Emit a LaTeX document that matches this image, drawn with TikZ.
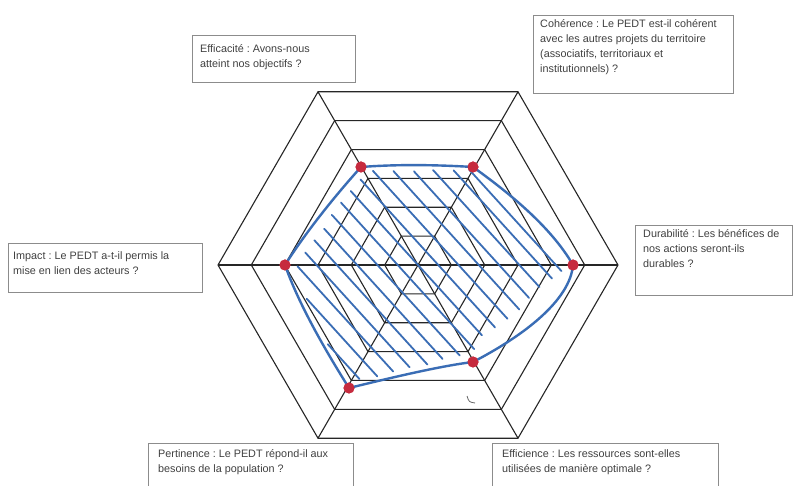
\documentclass[tikz,border=0pt]{standalone}
\usepackage{fontspec}
\setmainfont{Liberation Sans}
\frenchspacing
\definecolor{bluec}{HTML}{3A6DB5}
\definecolor{redc}{HTML}{C62B3E}
\definecolor{boxc}{HTML}{8C8C8C}
\definecolor{txtc}{HTML}{404040}
\begin{document}
\begin{tikzpicture}[x=1pt,y=-1pt,
  hexline/.style={line width=1.1pt, draw=black!85},
  bluecurve/.style={line width=2.4pt, draw=bluec, line cap=round, line join=round},
  hatch/.style={line width=1.8pt, draw=bluec, line cap=round},
  dot/.style={circle, fill=redc, inner sep=0pt, minimum size=11pt},
  infobox/.style={draw=boxc, line width=0.9pt, inner sep=0pt, anchor=north west},
  infotext/.style={anchor=north west, align=left, inner sep=0pt, font=\fontsize{10.8}{15}\selectfont, text=txtc}]
\useasboundingbox (0,0) rectangle (801,486);
\clip (0,0) rectangle (801,486);
\fill[white] (0,0) rectangle (801,486);

% hexagon grid
\begin{scope}[shift={(418,265)}]
  \foreach \r in {33.3,66.7,100,133.3,166.7,200}{
    \draw[hexline] (0:\r) -- (60:\r) -- (120:\r) -- (180:\r) -- (240:\r) -- (300:\r) -- cycle;
  }
  \draw[hexline] (0:200) -- (180:200);
  \draw[hexline] (60:200) -- (240:200);
  \draw[hexline] (120:200) -- (300:200);
\end{scope}

% hatching
\begin{scope}[shift={(418,265)}, x={(0.740pt,0.673pt)}, y={(0.673pt,-0.740pt)}]
  \foreach \s/\ta/\tb in {-120/-2/45, -105/-50/55, -90/-80/62, -75/-85/70, -60/-88/80,
     -45/-90/86, -30/-95/95, -15/-98/100, 0/-100/95, 15/-102/98, 30/-100/100,
     45/-86/101, 60/-72/99, 75/-60/98, 90/-46/100, 102/-36/101}{
    \draw[hatch] (\s,\ta) -- (\s,\tb);
  }
\end{scope}

% data points
\node[dot] (pTL) at (361,167) {};
\node[dot] (pTR) at (473,167) {};
\node[dot] (pR) at (573,265) {};
\node[dot] (pBR) at (473,362) {};
\node[dot] (pBL) at (349,388) {};
\node[dot] (pL) at (285,265) {};

\draw[bluecurve] (pTL.center) .. controls (400,164) and (440,165) .. (pTR.center)
  .. controls (505,190) and (550,225) .. (pR.center)
  .. controls (570,300) and (525,335) .. (pBR.center)
  .. controls (440,366) and (390,378) .. (pBL.center)
  .. controls (322,345) and (298,302) .. (pL.center)
  .. controls (306,232) and (334,197) .. (pTL.center);

\node[dot] at (pTL) {};
\node[dot] at (pTR) {};
\node[dot] at (pR) {};
\node[dot] at (pBR) {};
\node[dot] at (pBL) {};
\node[dot] at (pL) {};

% small pencil mark
\coordinate (m1) at (467,396);
\coordinate (m2) at (475,403);
\draw[black!60, line width=0.8pt] (m1) .. controls (469,402) .. (m2);

% boxes
\node[infobox, minimum width=163pt, minimum height=47pt] (bEff) at (192,35) {};
\node[infotext] (tEff) at (200,44) {Efficacité : Avons-nous\\atteint nos objectifs ?};

\node[infobox, minimum width=200pt, minimum height=78pt] (bCoh) at (533,15) {};
\node[infotext] (tCoh) at (540,19) {Cohérence : Le PEDT est-il cohérent\\avec les autres projets du territoire\\(associatifs, territoriaux et\\institutionnels) ?};

\node[infobox, minimum width=194pt, minimum height=49pt] (bImp) at (8,243) {};
\node[infotext] (tImp) at (13,251) {Impact : Le PEDT a-t-il permis la\\mise en lien des acteurs ?};

\node[infobox, minimum width=157pt, minimum height=70pt] (bDur) at (635,225) {};
\node[infotext] (tDur) at (643,229) {Durabilité : Les bénéfices de\\nos actions seront-ils\\durables ?};

\node[infobox, minimum width=205pt, minimum height=60pt] (bPer) at (148,443) {};
\node[infotext] (tPer) at (158,449) {Pertinence : Le PEDT répond-il aux\\besoins de la population ?};

\node[infobox, minimum width=226pt, minimum height=60pt] (bEfi) at (492,443) {};
\node[infotext] (tEfi) at (502,449) {Efficience : Les ressources sont-elles\\utilisées de manière optimale ?};
\end{tikzpicture}
\end{document}
